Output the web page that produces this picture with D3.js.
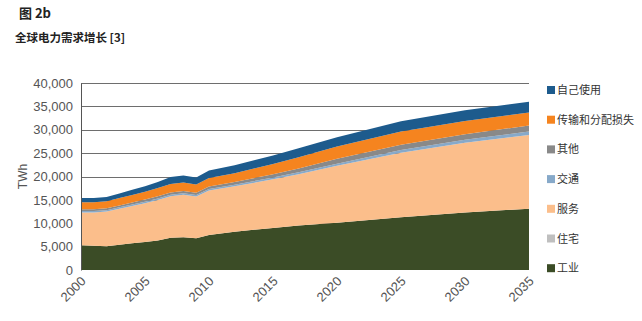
<!DOCTYPE html>
<html>
<head>
<meta charset="UTF-8">
<script src="https://d3js.org/d3.v7.min.js"></script>
<title>全球电力需求增长</title>
<style>
  body { margin: 0; background: #fff; }
  text { font-family: "Liberation Sans", Arial, sans-serif; }
  .cjk { font-family: "Noto Sans CJK SC", sans-serif; }
</style>
</head>
<body>
<div id="chart"></div>
<script>
// 数据 (TWh)
var years = [2000, 2001, 2002, 2003, 2004, 2005, 2006, 2007, 2008, 2009, 2010, 2012, 2015, 2017, 2020, 2025, 2030, 2035];
var industry    = [5300, 5200, 5100, 5400, 5700, 6000, 6300, 6900, 7000, 6800, 7500, 8200, 9000, 9500, 10100, 11300, 12300, 13100];
var residential = [0, 0, 0, 0, 0, 0, 0, 0, 0, 0, 0, 0, 0, 0, 0, 0, 0, 0];
var services    = [7000, 7100, 7400, 7700, 8000, 8300, 8700, 8900, 9100, 8900, 9500, 9700, 10400, 11000, 12200, 13800, 14900, 15800];
var transport   = [300, 300, 300, 300, 300, 300, 300, 300, 320, 320, 330, 350, 400, 420, 450, 550, 650, 750];
var other       = [400, 400, 400, 420, 440, 460, 480, 500, 500, 500, 520, 550, 700, 800, 1050, 1150, 1200, 1250];
var tdLosses    = [1500, 1500, 1500, 1560, 1620, 1680, 1740, 1800, 1820, 1780, 1850, 1900, 2200, 2400, 2600, 2800, 2800, 2800];
var ownUse      = [900, 900, 900, 1000, 1100, 1200, 1300, 1500, 1500, 1500, 1600, 1700, 1800, 1900, 2000, 2200, 2300, 2300];

var seriesNames = ["工业", "住宅", "服务", "交通", "其他", "传输和分配损失", "自己使用"];
var seriesValues = [industry, residential, services, transport, other, tdLosses, ownUse];
var colors = ["#3b4c26", "#bfbfbf", "#fbbe8b", "#87a9c9", "#898989", "#f5841f", "#1d5b8d"];
var yTicks = [0, 5000, 10000, 15000, 20000, 25000, 30000, 35000, 40000];
var xTicks = [2000, 2005, 2010, 2015, 2020, 2025, 2030, 2035];

var width = 642, height = 321;
var mLeft = 81, mRight = 529, mTop = 83, mBottom = 270;

var svg = d3.select("#chart").append("svg")
  .attr("width", width).attr("height", height);

// 标题
svg.append("text").attr("class", "cjk").attr("x", 19).attr("y", 18)
  .attr("font-size", 13).attr("font-weight", "bold").attr("fill", "#222").text("图 2b");
svg.append("text").attr("class", "cjk").attr("x", 15).attr("y", 42)
  .attr("font-size", 11.5).attr("font-weight", "bold").attr("fill", "#222").text("全球电力需求增长 [3]");

var x = d3.scaleLinear().domain([2000, 2035]).range([mLeft, mRight]);
var y = d3.scaleLinear().domain([0, 40000]).range([mBottom, mTop]);

// 网格线
svg.append("g").selectAll("line").data(yTicks.slice(1)).enter().append("line")
  .attr("x1", mLeft).attr("x2", mRight)
  .attr("y1", function(d) { return Math.round(y(d)) + 0.5; })
  .attr("y2", function(d) { return Math.round(y(d)) + 0.5; })
  .attr("stroke", "#6e6e6e").attr("stroke-width", 1);

// 堆叠
var table = years.map(function(yr, i) {
  var row = { year: yr };
  seriesNames.forEach(function(n, k) { row[n] = seriesValues[k][i]; });
  return row;
});
var stack = d3.stack().keys(seriesNames);
var layers = stack(table);

var area = d3.area()
  .x(function(d) { return x(d.data.year); })
  .y0(function(d) { return y(d[0]); })
  .y1(function(d) { return y(d[1]); });

svg.append("g").selectAll("path").data(layers).enter().append("path")
  .attr("d", area)
  .attr("fill", function(d, i) { return colors[i]; });

// Y轴
var yAxis = svg.append("g").attr("transform", "translate(" + mLeft + ",0)")
  .call(d3.axisLeft(y).tickValues(yTicks).tickSize(0).tickPadding(8)
    .tickFormat(d3.format(",")));
yAxis.select(".domain").attr("stroke", "#555");
yAxis.selectAll("text").attr("font-size", 13).attr("fill", "#555");

svg.append("text")
  .attr("transform", "translate(27," + ((mTop + mBottom) / 2) + ") rotate(-90)")
  .attr("text-anchor", "middle").attr("font-size", 12).attr("fill", "#555").text("TWh");

// X轴
var xAxis = svg.append("g").attr("transform", "translate(0," + mBottom + ")")
  .call(d3.axisBottom(x).tickValues(xTicks).tickSize(0).tickFormat(d3.format("d")));
xAxis.select(".domain").remove();
xAxis.selectAll("text")
  .attr("font-size", 13).attr("fill", "#555")
  .attr("text-anchor", "end")
  .attr("dy", 0).attr("y", 0)
  .attr("transform", "translate(5,12) rotate(-45)");

// 图例
var legendData = seriesNames.map(function(n, i) { return { name: n, color: colors[i] }; }).reverse();
var lg = svg.append("g").selectAll("g").data(legendData).enter().append("g")
  .attr("transform", function(d, i) { return "translate(547," + (90 + i * 29.7) + ")"; });
lg.append("rect").attr("x", 0).attr("y", -4).attr("width", 8).attr("height", 8)
  .attr("fill", function(d) { return d.color; });
lg.append("text").attr("class", "cjk").attr("x", 10).attr("y", 4)
  .attr("font-size", 11).attr("fill", "#333").text(function(d) { return d.name; });
</script>
</body>
</html>
